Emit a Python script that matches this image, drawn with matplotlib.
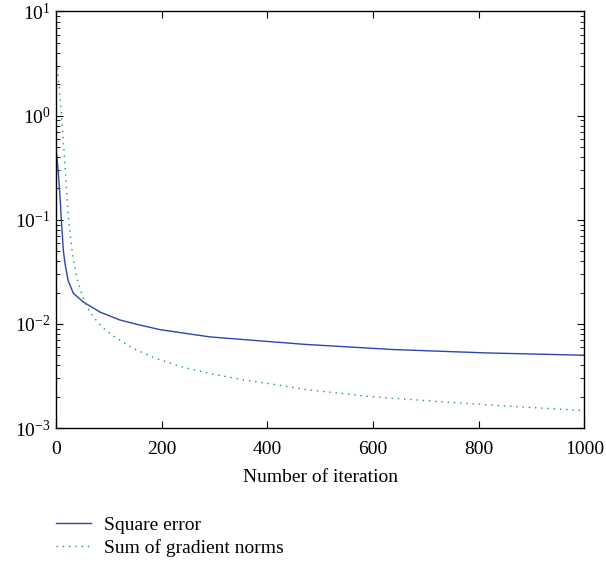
import matplotlib
matplotlib.use("Agg")
import matplotlib.pyplot as plt
from matplotlib.ticker import LogLocator, NullFormatter

plt.rcParams['font.family'] = ['Liberation Serif', 'DejaVu Serif']
plt.rcParams['mathtext.fontset'] = 'stix'

# values
iter_sq = [0, 4, 8, 10, 11.4, 13.9, 17, 23, 33, 52, 83, 121, 153, 197, 291, 386, 470,
           638, 815, 1000]
square_error = [0.49, 0.30, 0.155, 0.10, 0.080, 0.051, 0.038, 0.026, 0.0196, 0.0162, 0.0130,
                0.0109, 0.0099, 0.0088, 0.0075, 0.00687, 0.00636, 0.00567, 0.00526, 0.0050]

iter_gn = [0, 2.5, 6, 9, 12, 15, 18, 21, 25, 31.5, 36, 41, 48.6, 56.8, 70.6, 86.5, 102, 113,
           143, 187, 235, 295, 355, 418, 470, 588, 714, 840, 1000]
grad_norms = [4.3, 2.96, 1.9, 1.22, 0.78, 0.47, 0.28, 0.155, 0.086, 0.046, 0.034, 0.026,
              0.0195, 0.0151, 0.0117, 0.0094, 0.0081, 0.0074, 0.0059, 0.0047, 0.0039, 0.0033,
              0.0029, 0.0026, 0.00235, 0.00202, 0.00181, 0.00164, 0.00147]

fig = plt.figure(figsize=(6.06, 5.69), dpi=100)
ax = fig.add_axes([0.0924, 0.2478, 0.8718, 0.7320])

l1, = ax.plot(iter_sq, square_error, color='#2a45b0', lw=1.0, label='Square error')
l2, = ax.plot(iter_gn, grad_norms, color='#1e9a5a', lw=1.0, linestyle=(0, (1, 3.5)),
              label='Sum of gradient norms')

ax.set_yscale('log')
ax.set_xlim(0, 1000)
ax.set_ylim(1e-3, 1e1)
ax.set_xticks([0, 200, 400, 600, 800, 1000])
ax.yaxis.set_minor_locator(LogLocator(base=10, subs=range(2, 10)))
ax.yaxis.set_minor_formatter(NullFormatter())
ax.tick_params(which='both', direction='in', top=True, right=True, labelsize=14)
ax.tick_params(which='major', length=5)
ax.tick_params(which='minor', length=3)
ax.tick_params(axis='x', which='major', pad=9)
ax.tick_params(axis='y', which='major', pad=4)
for s in ax.spines.values():
    s.set_linewidth(1.0)
ax.set_xlabel('Number of iteration', fontsize=14, labelpad=8)

fig.legend(handles=[l1, l2], loc='upper left', bbox_to_anchor=(0.079, 0.107),
           frameon=False, fontsize=14, handlelength=1.8, handletextpad=0.67,
           labelspacing=0.3, borderaxespad=0)

fig.savefig('out.png', dpi=100)
